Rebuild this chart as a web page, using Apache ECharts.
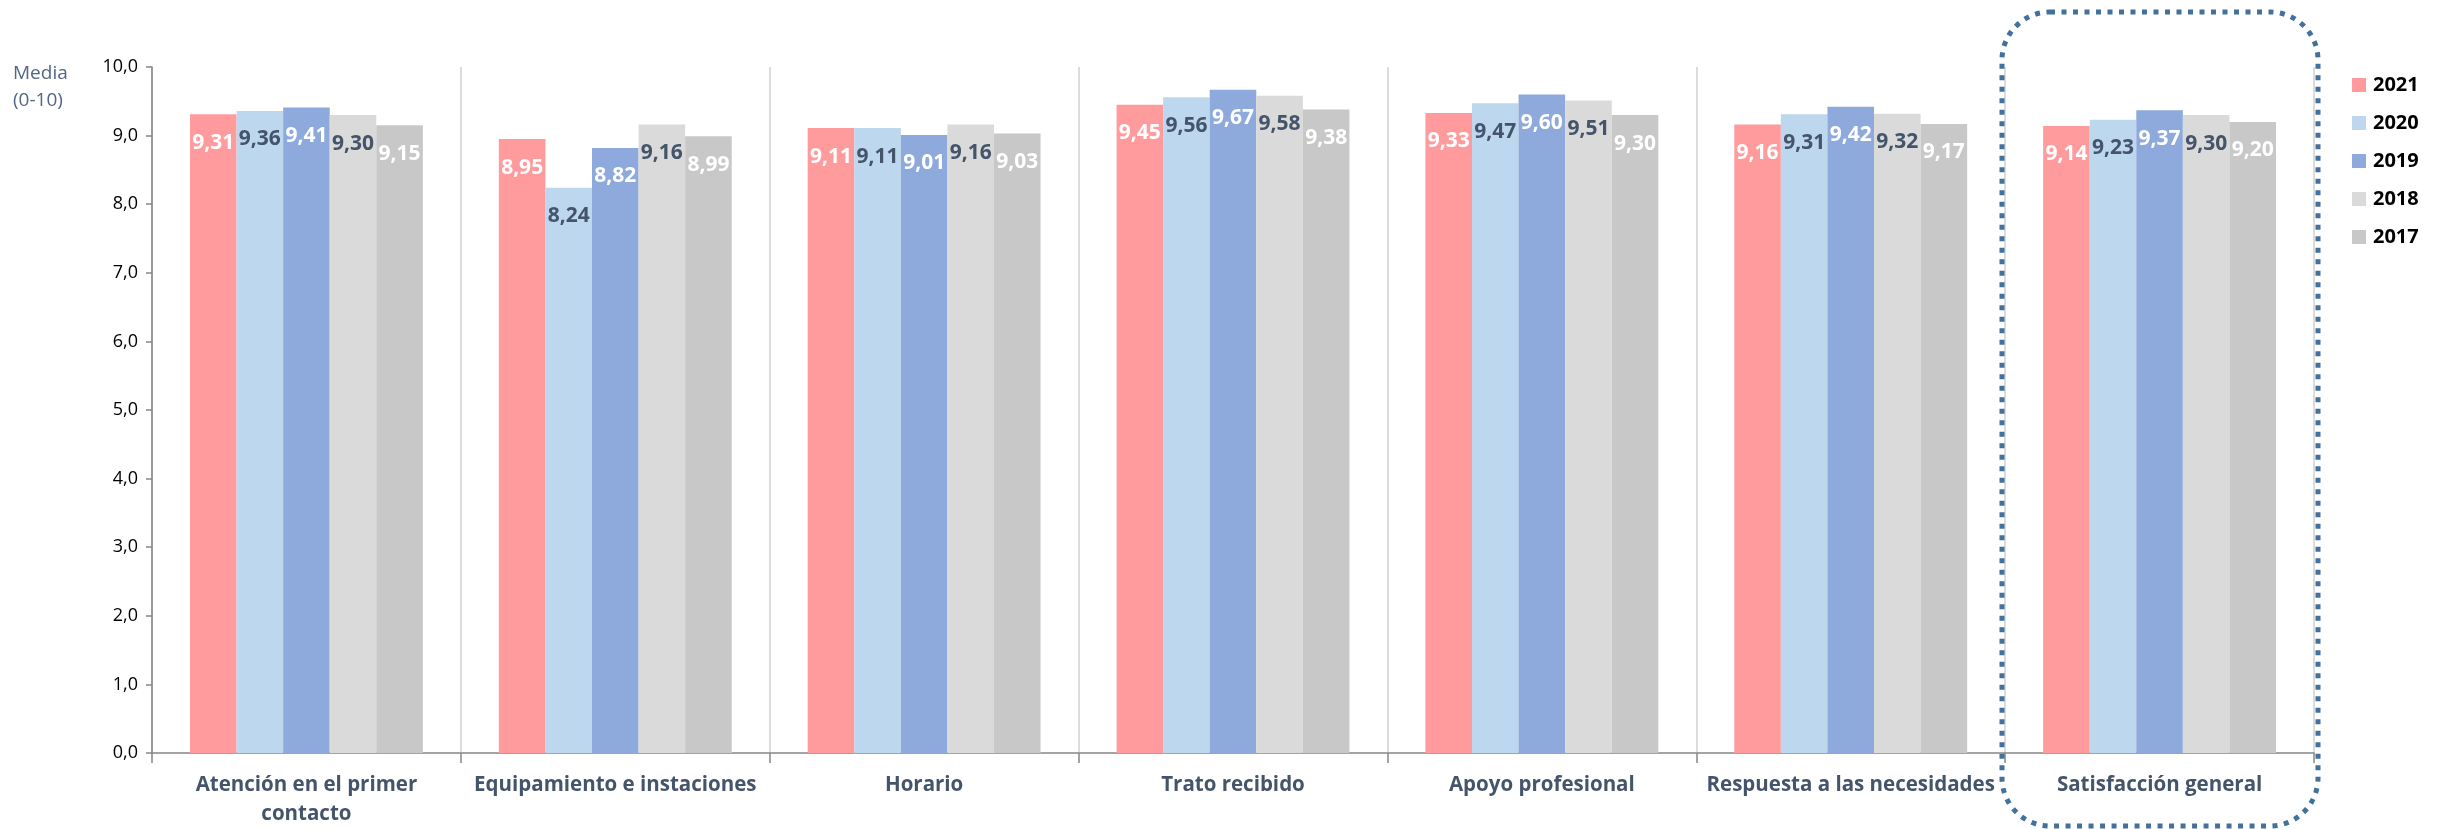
<!DOCTYPE html>
<html>
<head>
<meta charset="utf-8">
<script src="https://cdn.jsdelivr.net/npm/echarts@6/dist/echarts.min.js"></script>
<style>
  html, body { margin: 0; padding: 0; background: #fff; }
  #chart { width: 2443px; height: 829px; }
</style>
</head>
<body>
<div id="chart"></div>
<script>
// Survey satisfaction means (0-10) by aspect and year
const categories = [
  'Atención en el primer\ncontacto',
  'Equipamiento e instaciones',
  'Horario',
  'Trato recibido',
  'Apoyo profesional',
  'Respuesta a las necesidades',
  'Satisfacción general'
];
const years = ['2021', '2020', '2019', '2018', '2017'];
const values2021 = [9.31, 8.95, 9.11, 9.45, 9.33, 9.16, 9.14];
const values2020 = [9.36, 8.24, 9.11, 9.56, 9.47, 9.31, 9.23];
const values2019 = [9.41, 8.82, 9.01, 9.67, 9.60, 9.42, 9.37];
const values2018 = [9.30, 9.16, 9.16, 9.58, 9.51, 9.32, 9.30];
const values2017 = [9.15, 8.99, 9.03, 9.38, 9.30, 9.17, 9.20];
const yTicks = { min: 0, max: 10, interval: 1 };

const seriesValues = [values2021, values2020, values2019, values2018, values2017];
const barColors = ['#ff9b9d', '#bdd7ee', '#8eaadc', '#dadada', '#c8c8c8'];
const labelColors = ['#ffffff', '#44546a', '#ffffff', '#44546a', '#ffffff'];
const FONT = '"Open Sans", Lato, sans-serif';

const chart = echarts.init(document.getElementById('chart'), null, { renderer: 'canvas' });

const series = years.map((y, i) => ({
  name: y,
  type: 'bar',
  data: seriesValues[i],
  barGap: '0%',
  barCategoryGap: '24.6%',
  itemStyle: { color: barColors[i] },
  label: {
    show: true,
    position: 'insideTop',
    distance: 18,
    color: labelColors[i],
    fontFamily: FONT,
    fontWeight: 'bold',
    fontSize: 21,
    formatter: p => p.value.toFixed(2).replace('.', ',')
  }
}));

chart.setOption({
  animation: false,
  backgroundColor: '#ffffff',
  textStyle: { fontFamily: FONT },
  grid: { left: 152, right: 129, top: 67, bottom: 74, containLabel: false },
  legend: {
    orient: 'vertical',
    left: 2347,
    top: 70,
    itemWidth: 14,
    itemHeight: 14,
    itemGap: 18,
    icon: 'rect',
    textStyle: { fontFamily: FONT, fontWeight: 'bold', fontSize: 20, color: '#000', padding: [0, 0, 0, 2] },
    data: years
  },
  xAxis: {
    type: 'category',
    data: categories,
    axisLine: { show: true, lineStyle: { color: '#868686', width: 1.5 } },
    axisTick: { show: true, length: 10, lineStyle: { color: '#868686', width: 1.5 } },
    splitLine: { show: true, lineStyle: { color: '#d0d0d0', width: 1.5 } },
    axisLabel: {
      color: '#44546a',
      fontFamily: FONT,
      fontWeight: 'bold',
      fontSize: 20.5,
      lineHeight: 29,
      margin: 18,
      interval: 0
    }
  },
  yAxis: {
    type: 'value',
    min: yTicks.min,
    max: yTicks.max,
    interval: yTicks.interval,
    axisLine: { show: true, lineStyle: { color: '#868686', width: 1.5 } },
    axisTick: { show: true, inside: false, length: 6, lineStyle: { color: '#868686', width: 1.5 } },
    splitLine: { show: false },
    axisLabel: {
      color: '#000',
      fontFamily: FONT,
      fontSize: 18,
      margin: 14,
      formatter: v => v.toFixed(1).replace('.', ',')
    }
  },
  graphic: [
    {
      type: 'text',
      left: 13,
      top: 60,
      style: {
        text: 'Media\n(0-10)',
        fill: '#526685',
        font: '19px ' + FONT,
        lineHeight: 27
      }
    },
    {
      // dotted highlight frame around the overall-satisfaction group
      type: 'rect',
      shape: { x: 2002, y: 12, width: 316, height: 814, r: 48 },
      style: {
        fill: 'none',
        stroke: '#41719c',
        lineWidth: 5,
        lineDash: [5, 6.5]
      },
      z: 100
    }
  ],
  series: series
});
</script>
</body>
</html>
